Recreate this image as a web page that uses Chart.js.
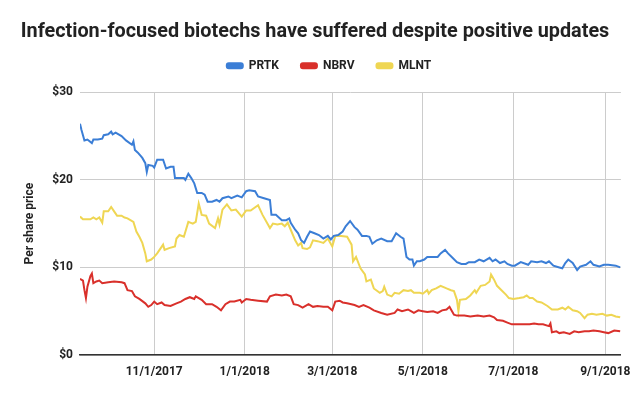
<!DOCTYPE html>
<html>
<head>
<meta charset="utf-8">
<script src="https://cdn.jsdelivr.net/npm/chart.js@4.4.1/dist/chart.umd.min.js"></script>
<style>
  html, body { margin: 0; padding: 0; background: #fff; }
</style>
</head>
<body>
<canvas id="myChart" width="641" height="396"></canvas>
<script>
// days counted from 9/12/2017
var tickDays = [50, 111, 170, 231, 292, 354];
var tickLabels = ['11/1/2017', '1/1/2018', '3/1/2018', '5/1/2018', '7/1/2018', '9/1/2018'];
var yTicks = [0, 10, 20, 30];

var prtkDays = [
    0, 1, 3, 5, 8, 9, 12, 15, 16, 19,
    21, 22, 24, 28, 31, 35, 36, 37, 39, 42,
    44, 45, 46, 49, 50, 52, 56, 58, 61, 63,
    64, 67, 70, 71, 73, 75, 77, 79, 82, 84,
    86, 89, 92, 94, 96, 100, 102, 106, 109, 112,
    114, 118, 120, 124, 128, 129, 132, 136, 139, 141,
    142, 145, 147, 149, 151, 153, 155, 158, 161, 164,
    167, 169, 171, 174, 177, 179, 182, 185, 187, 190,
    193, 195, 197, 200, 203, 207, 210, 213, 216, 218,
    220, 222, 224, 225, 227, 229, 232, 234, 238, 241,
    243, 246, 248, 251, 254, 257, 260, 262, 266, 269,
    272, 276, 278, 280, 283, 286, 288, 291, 293, 297,
    302, 304, 308, 311, 314, 316, 319, 323, 325, 327,
    329, 332, 335, 337, 341, 344, 346, 350, 353, 356,
    361, 364
];
var prtkPrice = [
    26.4, 25.7, 24.5, 24.6, 24.2, 24.6, 24.6, 24.7, 25.1, 25.2,
    25.5, 25.2, 25.4, 25.0, 24.5, 24.0, 24.4, 23.4, 23.1, 22.5,
    21.9, 20.9, 21.7, 21.6, 21.4, 22.3, 22.3, 21.3, 21.5, 21.5,
    20.2, 20.2, 20.2, 20.0, 20.7, 20.2, 19.6, 18.5, 18.5, 18.3,
    17.5, 17.5, 17.7, 17.5, 17.9, 18.1, 17.9, 18.2, 18.0, 18.7,
    18.8, 18.7, 18.1, 17.9, 17.7, 16.0, 16.0, 15.4, 15.4, 15.6,
    15.1, 14.3, 13.9, 13.1, 12.8, 13.5, 14.1, 13.9, 13.7, 13.3,
    13.6, 13.2, 13.6, 13.7, 14.1, 14.7, 15.3, 14.6, 14.3, 13.6,
    13.6, 13.5, 12.7, 13.1, 13.3, 13.0, 13.0, 13.9, 13.5, 13.3,
    11.2, 10.9, 10.9, 10.2, 10.7, 10.7, 10.9, 11.2, 11.2, 11.2,
    11.6, 12.0, 11.6, 11.1, 10.6, 10.4, 10.4, 10.6, 10.6, 10.9,
    10.7, 11.1, 10.7, 10.9, 10.5, 10.7, 10.4, 10.2, 10.2, 10.6,
    10.3, 10.7, 10.6, 10.7, 10.5, 10.7, 10.2, 10.0, 9.9, 10.5,
    10.9, 10.5, 9.7, 10.1, 10.3, 10.7, 10.3, 10.1, 10.3, 10.3,
    10.2, 10.0
];

var nbrvDays = [
    0, 2, 3, 4, 5, 7, 8, 9, 11, 13,
    15, 19, 23, 28, 30, 32, 35, 37, 40, 44,
    46, 48, 50, 52, 55, 57, 61, 65, 68, 71,
    74, 77, 78, 82, 85, 89, 92, 95, 98, 101,
    104, 108, 109, 112, 115, 120, 126, 128, 132, 136,
    139, 142, 144, 147, 150, 154, 157, 160, 164, 167,
    170, 172, 175, 177, 180, 185, 188, 191, 195, 198,
    203, 207, 212, 214, 217, 221, 223, 225, 228, 231,
    234, 238, 241, 244, 247, 249, 250, 252, 254, 259,
    263, 268, 272, 276, 279, 281, 285, 288, 291, 294,
    298, 303, 306, 309, 312, 316, 317, 318, 321, 323,
    326, 330, 333, 336, 340, 343, 346, 350, 353, 356,
    360, 364
];
var nbrvPrice = [
    8.7, 8.5, 7.4, 6.5, 7.8, 9.0, 9.3, 8.2, 8.4, 8.5,
    8.2, 8.3, 8.4, 8.3, 8.2, 7.4, 7.3, 6.7, 6.4, 5.9,
    5.5, 5.7, 6.1, 5.8, 6.0, 5.7, 5.6, 5.9, 6.1, 6.4,
    6.6, 6.4, 6.7, 6.3, 5.8, 5.8, 5.5, 5.1, 5.8, 6.1,
    6.1, 6.3, 6.0, 6.4, 6.3, 6.2, 6.1, 6.7, 6.9, 6.8,
    6.9, 6.7, 5.8, 5.7, 5.4, 5.8, 5.5, 5.6, 5.5, 5.5,
    5.1, 6.1, 6.2, 6.0, 5.9, 5.7, 5.5, 5.7, 5.4, 5.1,
    4.8, 4.6, 4.8, 5.2, 5.0, 5.2, 5.0, 4.8, 5.1, 5.0,
    4.9, 5.0, 4.8, 5.1, 5.2, 5.5, 5.2, 4.6, 4.5, 4.5,
    4.4, 4.5, 4.4, 4.5, 4.3, 4.0, 3.9, 3.7, 3.5, 3.5,
    3.5, 3.5, 3.6, 3.5, 3.5, 3.3, 3.6, 2.6, 2.7, 2.5,
    2.6, 2.4, 2.7, 2.6, 2.7, 2.7, 2.8, 2.7, 2.6, 2.5,
    2.8, 2.7
];

var mlntDays = [
    0, 2, 7, 9, 11, 13, 15, 16, 19, 21,
    23, 25, 28, 30, 32, 36, 38, 40, 42, 44,
    45, 48, 50, 52, 56, 57, 60, 64, 65, 67,
    70, 73, 76, 78, 80, 82, 85, 87, 91, 93,
    94, 96, 99, 102, 105, 109, 112, 115, 120, 123,
    128, 130, 133, 136, 138, 140, 142, 145, 147, 149,
    150, 153, 155, 157, 160, 164, 167, 170, 172, 176,
    180, 183, 184, 186, 189, 192, 193, 196, 198, 202,
    204, 205, 207, 210, 212, 215, 218, 221, 223, 225,
    229, 231, 234, 235, 237, 240, 243, 247, 250, 252,
    254, 255, 256, 260, 263, 266, 267, 270, 273, 276,
    277, 279, 281, 284, 287, 289, 292, 296, 299, 301,
    303, 305, 308, 311, 315, 318, 322, 325, 327, 329,
    332, 335, 337, 340, 342, 345, 348, 352, 355, 358,
    361, 364
];
var mlntPrice = [
    15.8, 15.5, 15.5, 15.7, 15.5, 15.7, 15.1, 16.4, 16.4, 16.9,
    16.4, 15.9, 15.9, 15.7, 15.6, 15.2, 14.1, 13.5, 12.8, 11.6,
    10.7, 10.9, 11.2, 11.6, 12.6, 12.0, 12.2, 12.4, 13.3, 13.7,
    13.5, 15.2, 15.0, 15.2, 17.3, 16.0, 15.9, 15.0, 14.5, 15.6,
    14.9, 16.6, 17.2, 16.5, 16.6, 15.8, 16.5, 16.5, 17.1, 16.0,
    14.5, 15.0, 14.9, 15.0, 14.7, 15.1, 14.3, 13.1, 12.5, 12.8,
    12.2, 12.1, 12.3, 13.1, 13.0, 12.8, 13.3, 12.4, 13.6, 13.6,
    13.5, 12.6, 10.7, 11.2, 9.9, 9.2, 8.4, 8.6, 7.6, 7.1,
    7.3, 7.8, 6.9, 6.7, 7.1, 7.0, 7.4, 7.3, 7.4, 7.1,
    7.1, 7.0, 7.4, 7.0, 7.4, 7.6, 7.9, 7.6, 7.4, 7.3,
    6.3, 5.0, 6.3, 6.4, 6.8, 7.4, 7.1, 7.9, 8.0, 8.4,
    9.2, 8.6, 7.9, 7.4, 6.9, 6.5, 6.4, 6.5, 6.6, 6.8,
    6.5, 6.5, 6.1, 6.0, 5.6, 5.2, 5.2, 5.4, 5.2, 5.5,
    5.1, 5.0, 4.8, 4.2, 4.6, 4.7, 4.6, 4.7, 4.5, 4.6,
    4.4, 4.3
];

function toPoints(days, prices) {
    return days.map(function (d, i) { return { x: d, y: prices[i] }; });
}

function series(label, days, prices, color) {
    return {
        label: label,
        data: toPoints(days, prices),
        borderColor: color,
        backgroundColor: color,
        borderWidth: 2,
        pointRadius: 0,
        tension: 0
    };
}

// extra room under the legend row, and nudge the row right a bit
var legendGap = {
    id: 'legendGap',
    beforeInit: function (chart) {
        var fit = chart.legend.fit;
        chart.legend.fit = function () {
            fit.call(this);
            this.height += 10.5;
        };
    },
    afterLayout: function (chart) {
        chart.legend.left += 14;
        chart.legend.right += 14;
    }
};

var ctx = document.getElementById('myChart').getContext('2d');
var myChart = new Chart(ctx, {
    type: 'line',
    data: {
        datasets: [
            series('PRTK', prtkDays, prtkPrice, '#3b7ed6'),
            series('NBRV', nbrvDays, nbrvPrice, '#d9302b'),
            series('MLNT', mlntDays, mlntPrice, '#efd653')
        ]
    },
    plugins: [legendGap],
    options: {
        responsive: false,
        animation: false,
        layout: { padding: { left: 8, right: 19, top: 0, bottom: 0 } },
        plugins: {
            title: {
                display: true,
                text: 'Infection-focused biotechs have suffered despite positive updates',
                color: '#222',
                font: { family: 'Roboto', size: 19.8, weight: 'bold' },
                padding: { top: 20, bottom: -6 }
            },
            legend: {
                labels: {
                    color: '#222',
                    font: { family: 'Roboto', size: 12, weight: 'bold' },
                    boxWidth: 16,
                    boxHeight: 5,
                    padding: 22,
                    useBorderRadius: true,
                    borderRadius: 2
                }
            },
            tooltip: { enabled: false }
        },
        scales: {
            x: {
                type: 'linear',
                min: 0,
                max: 364.5,
                afterBuildTicks: function (scale) {
                    scale.ticks = tickDays.map(function (v) { return { value: v }; });
                },
                afterFit: function (scale) { scale.height = 41; },
                ticks: {
                    autoSkip: false,
                    maxRotation: 0,
                    padding: 10,
                    color: '#222',
                    font: { family: 'Roboto', size: 12, weight: 'bold' },
                    callback: function (v) { return tickLabels[tickDays.indexOf(v)]; }
                },
                grid: { color: '#cccccc', drawTicks: false },
                border: { color: '#333', width: 1.5 }
            },
            y: {
                min: 0,
                max: 30,
                afterBuildTicks: function (scale) {
                    scale.ticks = yTicks.map(function (v) { return { value: v }; });
                },
                afterFit: function (scale) { scale.width = 72; },
                ticks: {
                    padding: 7,
                    color: '#222',
                    font: { family: 'Roboto', size: 12, weight: 'bold' },
                    callback: function (v) { return '$' + v; }
                },
                grid: { color: '#cccccc', drawTicks: false },
                border: { display: false },
                title: {
                    display: true,
                    text: 'Per share price',
                    color: '#222',
                    font: { family: 'Roboto', size: 12, weight: 'bold' },
                    padding: { top: 15 }
                }
            }
        }
    }
});
</script>
</body>
</html>
